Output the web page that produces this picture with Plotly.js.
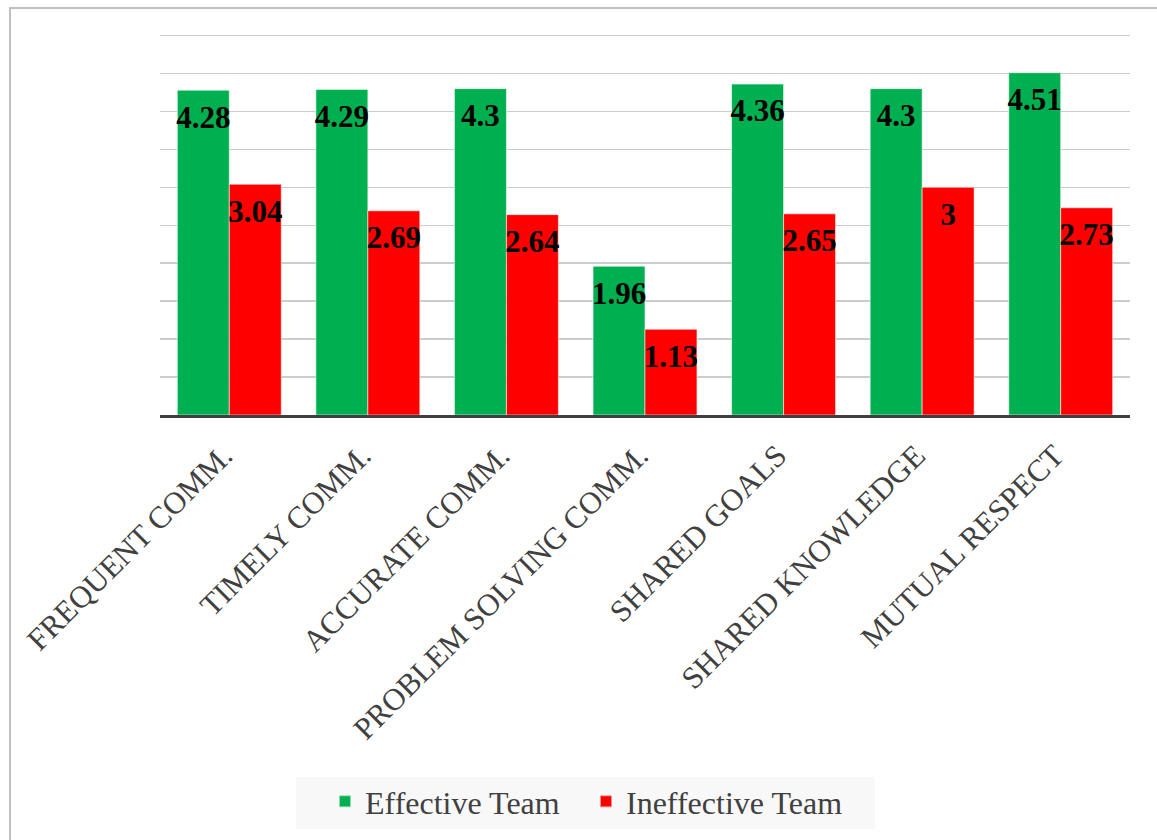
<!DOCTYPE html>
<html>
<head>
<meta charset="utf-8">
<script src="https://cdn.plot.ly/plotly-3.0.1.min.js"></script>
<style>
  html, body { margin: 0; padding: 0; background: #ffffff; overflow: hidden; }
  #frame { position: absolute; left: 9px; top: 7px; width: 1400px; height: 1000px;
           border-left: 2px solid #bfbfbf; border-top: 2px solid #bfbfbf; box-sizing: border-box; }
  #chart { position: absolute; left: 0; top: 0; width: 1157px; height: 840px; }
</style>
</head>
<body>
<div id="frame"></div>
<div id="chart"></div>
<script>
const categories = ["FREQUENT COMM.", "TIMELY COMM.", "ACCURATE COMM.", "PROBLEM SOLVING COMM.", "SHARED GOALS", "SHARED KNOWLEDGE", "MUTUAL RESPECT"];
const effectiveTeam = [4.28, 4.29, 4.3, 1.96, 4.36, 4.3, 4.51];
const ineffectiveTeam = [3.04, 2.69, 2.64, 1.13, 2.65, 3, 2.73];
const seriesNames = ["Effective Team", "Ineffective Team"];

const serif = "'Liberation Serif', 'Times New Roman', serif";
const labelFont = { family: serif, size: 31, color: "#000000", weight: "bold" };

function barTrace(name, values, color, group) {
  return {
    type: "bar",
    name: name,
    x: categories,
    y: values,
    offsetgroup: group,
    marker: { color: color, line: { color: "rgba(255,255,255,0.55)", width: 1 } },
    hoverinfo: "x+y+name"
  };
}

function labelTrace(name, values, group) {
  return {
    type: "scatter",
    mode: "markers+text",
    name: name + " labels",
    x: categories,
    y: values,
    offsetgroup: group,
    text: values.map(v => String(v)),
    textposition: "bottom center",
    textfont: labelFont,
    marker: { size: 21, color: "rgba(0,0,0,0)", line: { width: 0 } },
    showlegend: false,
    hoverinfo: "skip",
    cliponaxis: false
  };
}

const data = [
  barTrace(seriesNames[0], effectiveTeam, "#00b050", "a"),
  barTrace(seriesNames[1], ineffectiveTeam, "#ff0000", "b"),
  labelTrace(seriesNames[0], effectiveTeam, "a"),
  labelTrace(seriesNames[1], ineffectiveTeam, "b")
];

// plot area: x 160..1130 px, y 34..415 px
const plotTop = 34, plotBottom = 415, plotLeft = 160, plotRight = 1130;
const px2paperX = p => (p - plotLeft) / (plotRight - plotLeft);
const px2paperY = p => (plotBottom - p) / (plotBottom - plotTop);

const layout = {
  width: 1157,
  height: 840,
  paper_bgcolor: "rgba(0,0,0,0)",
  plot_bgcolor: "rgba(0,0,0,0)",
  margin: { l: plotLeft, r: 1157 - plotRight, t: plotTop, b: 840 - plotBottom, pad: 0 },
  barmode: "group",
  bargap: 0.25,
  bargroupgap: 0,
  scattermode: "group",
  scattergap: 0.25,
  font: { family: serif, color: "#404040" },
  xaxis: {
    type: "category",
    tickangle: -45,
    tickfont: { family: serif, size: 31, color: "#404040" },
    ticklabelstandoff: 7,
    ticklabelshift: -6,
    showline: true,
    linecolor: "#404040",
    linewidth: 3,
    ticks: "",
    showgrid: false,
    automargin: false
  },
  yaxis: {
    range: [0, 5.02],
    tick0: 0,
    dtick: 0.5,
    showticklabels: false,
    showgrid: true,
    gridcolor: "#cccccc",
    gridwidth: 1.5,
    zeroline: false,
    showline: false,
    ticks: ""
  },
  shapes: [{
    type: "rect",
    xref: "paper", yref: "paper",
    x0: px2paperX(296), x1: px2paperX(875),
    y0: px2paperY(829), y1: px2paperY(777),
    fillcolor: "#f8f8f8",
    line: { width: 0 },
    layer: "below"
  }],
  showlegend: true,
  legend: {
    orientation: "h",
    xref: "container",
    yref: "container",
    x: 325 / 1157,
    xanchor: "left",
    y: 1 - 774 / 840,
    yanchor: "top",
    bgcolor: "rgba(0,0,0,0)",
    entrywidth: 216,
    font: { family: serif, size: 32, color: "#404040" },
    itemsizing: "constant",
    traceorder: "normal"
  }
};

Plotly.newPlot("chart", data, layout, { displayModeBar: false, staticPlot: true });
</script>
</body>
</html>
